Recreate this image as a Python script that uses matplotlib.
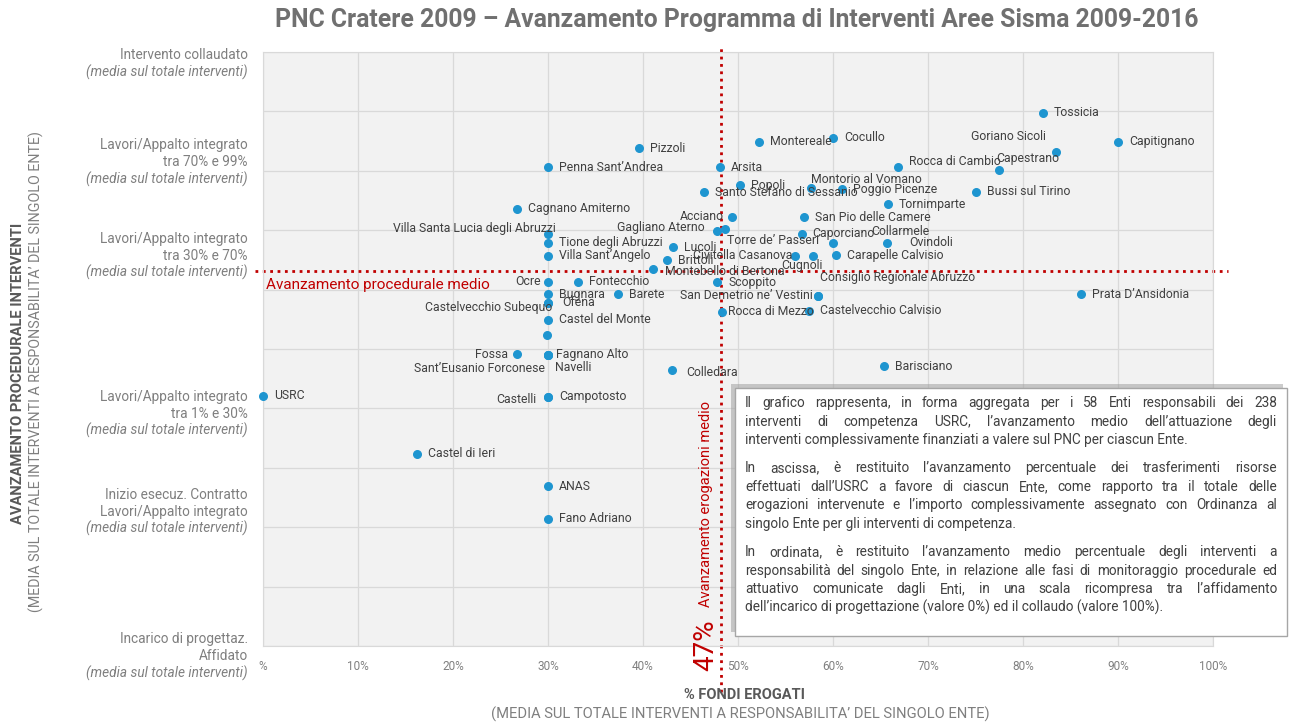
import matplotlib.pyplot as plt
import matplotlib.transforms as mtransforms
from matplotlib.patches import Rectangle

plt.rcParams['font.family'] = ['Roboto', 'DejaVu Sans']

# Enti: % fondi erogati (x) e avanzamento procedurale medio (y)
nomi = [
    "Tossicia", "Goriano Sicoli", "Capitignano", "Montereale", "Cocullo",
    "Pizzoli", "Penna Sant\u2019Andrea", "Arsita", "Rocca di Cambio", "Capestrano",
    "Popoli", "Montorio al Vomano", "Santo Stefano di Sessanio", "Poggio Picenze",
    "Bussi sul Tirino", "Tornimparte", "Cagnano Amiterno", "Acciano",
    "San Pio delle Camere", "Gagliano Aterno", "Villa Santa Lucia degli Abruzzi",
    "Collarmele", "Torre de\u2019 Passeri", "Caporciano", "Ovindoli",
    "Tione degli Abruzzi", "Lucoli", "Civitella Casanova", "Villa Sant\u2019Angelo",
    "Brittoli", "Carapelle Calvisio", "Cugnoli", "Montebello di Bertona",
    "Consiglio Regionale Abruzzo", "Ocre", "Fontecchio", "Scoppito", "Bugnara",
    "Barete", "San Demetrio ne\u2019 Vestini", "Prata D\u2019Ansidonia",
    "Castelvecchio Subequo", "Ofena", "Rocca di Mezzo", "Castelvecchio Calvisio",
    "Castel del Monte", "", "Fossa", "Fagnano Alto", "Sant\u2019Eusanio Forconese",
    "Navelli", "Barisciano", "Colledara", "USRC", "Castelli", "Campotosto",
    "Castel di Ieri", "ANAS", "Fano Adriano",
]
fondi = [
    82.1, 83.5, 90.0, 52.2, 60.0,
    39.6, 30.0, 48.1, 66.8, 77.5,
    50.2, 57.7, 46.4, 60.9,
    75.1, 65.8, 26.7, 49.4,
    56.9, 47.8, 30.0,
    60.0, 48.6, 56.7, 65.7,
    30.0, 43.2, 56.0, 30.0,
    42.5, 60.3, 57.9, 41.1,
    58.4, 30.0, 33.2, 47.8, 30.0,
    37.4, 58.4, 86.1,
    30.0, 30.0, 48.3, 57.5,
    30.0, 29.9, 26.7, 30.0, 30.0,
    30.0, 65.4, 43.0, 0.0, 30.0, 30.0,
    16.2, 30.0, 30.0,
]
avanzamento = [
    89.8, 83.1, 84.9, 84.9, 85.6,
    83.8, 80.6, 80.6, 80.6, 80.1,
    77.6, 77.1, 76.4, 76.9,
    76.5, 74.4, 73.6, 72.2,
    72.2, 69.9, 69.4,
    67.9, 70.2, 69.4, 67.9,
    67.9, 67.1, 65.7, 65.7,
    64.9, 65.8, 65.7, 63.5,
    59.0, 61.3, 61.3, 61.2, 59.2,
    59.2, 59.0, 59.2,
    57.7, 57.7, 56.3, 56.4,
    54.9, 52.4, 49.1, 49.0, 49.0,
    49.0, 47.1, 46.5, 42.1, 42.0, 42.0,
    32.4, 26.9, 21.4,
]

media_erogazioni = 48.2
media_erogazioni_txt = "47%"
media_procedurale = 63.1

x_ticks = list(range(0, 101, 10))
x_ticklabels = ["%"] + [f"{v}%" for v in x_ticks[1:]]

fasi = [
    ["Intervento collaudato"],
    ["Lavori/Appalto integrato", "tra 70% e 99%"],
    ["Lavori/Appalto integrato", "tra 30% e 70%"],
    ["Lavori/Appalto integrato", "tra 1% e 30%"],
    ["Inizio esecuz. Contratto", "Lavori/Appalto integrato"],
    ["Incarico di progettaz.", "Affidato"],
]
fasi_y = [98.0, 81.5, 65.7, 39.1, 22.6, -1.7]

paragrafi = [
    ["Il grafico rappresenta, in forma aggregata per i 58 Enti responsabili dei 238",
     "interventi di competenza USRC, l\u2019avanzamento medio dell\u2019attuazione degli",
     "interventi complessivamente finanziati a valere sul PNC per ciascun Ente."],
    ["In ascissa, \u00e8 restituito l\u2019avanzamento percentuale dei trasferimenti risorse",
     "effettuati dall\u2019USRC a favore di ciascun Ente, come rapporto tra il totale delle",
     "erogazioni intervenute e l\u2019importo complessivamente assegnato con Ordinanza al",
     "singolo Ente per gli interventi di competenza."],
    ["In ordinata, \u00e8 restituito l\u2019avanzamento medio percentuale degli interventi a",
     "responsabilit\u00e0 del singolo Ente, in relazione alle fasi di monitoraggio procedurale ed",
     "attuativo comunicate dagli Enti, in una scala ricompresa tra l\u2019affidamento",
     "dell\u2019incarico di progettazione (valore 0%) ed il collaudo (valore 100%)."],
]

# posizione etichette (offset in pixel, allineamento); default a destra
etichette_pos = {
    "Goriano Sicoli": (-10, 16, "right"),
    "Capestrano": (-3, 12, "left"),
    "Rocca di Cambio": (11, 6, "left"),
    "Montorio al Vomano": (0, 9, "left"),
    "Acciano": (-8, 1, "right"),
    "Gagliano Aterno": (-12, 3, "right"),
    "Villa Santa Lucia degli Abruzzi": (8, 5, "right"),
    "Collarmele": (38, 11, "left"),
    "Torre de\u2019 Passeri": (2, -11, "left"),
    "Ovindoli": (22, 0, "left"),
    "Civitella Casanova": (-3, 0, "right"),
    "Cugnoli": (-11, -10, "center"),
    "Montebello di Bertona": (12, -3, "left"),
    "Consiglio Regionale Abruzzo": (2, 18, "left"),
    "Ocre": (-7, 0, "right"),
    "San Demetrio ne\u2019 Vestini": (-5, 0, "right"),
    "Castelvecchio Subequo": (4, -4, "right"),
    "Ofena": (14, 1, "left"),
    "Rocca di Mezzo": (6, 0, "left"),
    "Fossa": (-9, 0, "right"),
    "Fagnano Alto": (8, 0, "left"),
    "Sant\u2019Eusanio Forconese": (-3, -14, "right"),
    "Navelli": (7, -13, "left"),
    "Colledara": (15, -3, "left"),
    "Castelli": (-12, -3, "right"),
}

W, H = 1290, 722
ROSSO = "#c00000"


def fx(px):
    return px / W


def fy(py):
    return 1 - py / H


fig = plt.figure(figsize=(W / 100, H / 100), dpi=100)
ax = fig.add_axes([fx(263), fy(646), 950 / W, 594 / H])
ax.set_facecolor("#f2f2f2")
ax.set_xlim(0, 100)
ax.set_ylim(0, 100)
ax.set_xticks(x_ticks)
ax.set_xticklabels(x_ticklabels)
ax.set_yticks(range(0, 101, 10))
ax.set_yticklabels([])
ax.tick_params(length=0, pad=10, labelsize=8.5, labelcolor="#808080")
ax.grid(True, color="#d9d9d9", lw=0.9)
ax.set_axisbelow(True)
for s in ax.spines.values():
    s.set_color("#d9d9d9")

# punti
ax.scatter(fondi, avanzamento, s=30, color="#1e95d0", zorder=3, clip_on=False)
for n, x, y in zip(nomi, fondi, avanzamento):
    if not n:
        continue
    dx, dy, ha = etichette_pos.get(n, (11, 0, "left"))
    ax.annotate(n, (x, y), xytext=(dx, dy), textcoords="offset pixels",
                ha=ha, va="center", fontsize=8.8, color="#404040", zorder=4)

# linee medie
ax.axvline(media_erogazioni, ymin=-0.078, ymax=1.012, color=ROSSO, ls=":", lw=2,
           clip_on=False, zorder=2)
ax.axhline(media_procedurale, xmin=-0.008, xmax=1.016, color=ROSSO, ls=":", lw=2,
           clip_on=False, zorder=2)
ax.text(0.003, media_procedurale - 2.3, "Avanzamento procedurale medio",
        transform=ax.get_yaxis_transform(), color=ROSSO, fontsize=11,
        ha="left", va="center")
ax.annotate("Avanzamento erogazioni medio", (media_erogazioni, 0), xytext=(-15, 39),
            textcoords="offset pixels", rotation=90, ha="center", va="bottom",
            color=ROSSO, fontsize=10.5)
ax.annotate(media_erogazioni_txt, (media_erogazioni, 0), xytext=(-15, 1),
            textcoords="offset pixels", rotation=90, ha="center", va="center",
            color=ROSSO, fontsize=20, annotation_clip=False)

# etichette fasi asse y
trans = mtransforms.blended_transform_factory(ax.transAxes, ax.transData)
for righe, yv in zip(fasi, fasi_y):
    tutte = righe + ["(media sul totale interventi)"]
    n = len(tutte)
    for i, r in enumerate(tutte):
        off = ((n - 1) / 2 - i) * 17
        italic = i == n - 1
        ax.annotate(r, (-0.016, yv), xycoords=trans, xytext=(0, off),
                    textcoords="offset pixels", ha="right", va="center",
                    fontsize=9.8, color="#7f7f7f",
                    style="italic" if italic else "normal", annotation_clip=False)

# titoli
fig.text(fx(737), fy(20), "PNC Cratere 2009 \u2013 Avanzamento Programma di Interventi Aree Sisma 2009-2016",
         ha="center", va="center", fontsize=17.8, fontweight="bold", color="#707070")
fig.text(fx(18), fy(373), "AVANZAMENTO PROCEDURALE INTERVENTI", rotation=90,
         ha="center", va="center", fontsize=10.6, fontweight="bold", color="#595959")
fig.text(fx(36), fy(372), "(MEDIA SUL TOTALE INTERVENTI A RESPONSABILITA\u2019 DEL SINGOLO ENTE)",
         rotation=90, ha="center", va="center", fontsize=10.3, color="#7f7f7f")
fig.text(fx(744), fy(695), "% FONDI EROGATI", ha="center", va="center",
         fontsize=10.5, fontweight="bold", color="#595959")
fig.text(fx(740), fy(714), "(MEDIA SUL TOTALE INTERVENTI A RESPONSABILITA\u2019 DEL SINGOLO ENTE)",
         ha="center", va="center", fontsize=10.6, color="#7f7f7f")

# riquadro note
bx0, by0, bx1, by1 = 735, 388, 1287, 636
fig.patches.append(Rectangle((fx(bx0 - 4), fy(by1 - 4)), (bx1 - bx0) / W, (by1 - by0) / H,
                             transform=fig.transFigure, facecolor="#9a9a9a",
                             edgecolor="none", alpha=0.5, zorder=5))
fig.patches.append(Rectangle((fx(bx0), fy(by1)), (bx1 - bx0) / W, (by1 - by0) / H,
                             transform=fig.transFigure, facecolor="white",
                             edgecolor="#a6a6a6", lw=1, zorder=6))

renderer = fig.canvas.get_renderer()
tx0, tx1 = 745, 1277
y_riga = 403
for par in paragrafi:
    for k, riga in enumerate(par):
        if k == len(par) - 1:
            fig.text(fx(tx0), fy(y_riga), riga, ha="left", va="center",
                     fontsize=9.8, color="#404040", zorder=7)
        else:
            parole = riga.split(" ")
            objs = [fig.text(0, fy(y_riga), p, ha="left", va="center",
                             fontsize=9.8, color="#404040", zorder=7) for p in parole]
            larg = [o.get_window_extent(renderer).width for o in objs]
            gap = (tx1 - tx0 - sum(larg)) / (len(parole) - 1)
            xc = tx0
            for o, w in zip(objs, larg):
                o.set_x(fx(xc))
                xc += w + gap
        y_riga += 18.6
    y_riga += 9.4

fig.savefig("out.png", dpi=100)
